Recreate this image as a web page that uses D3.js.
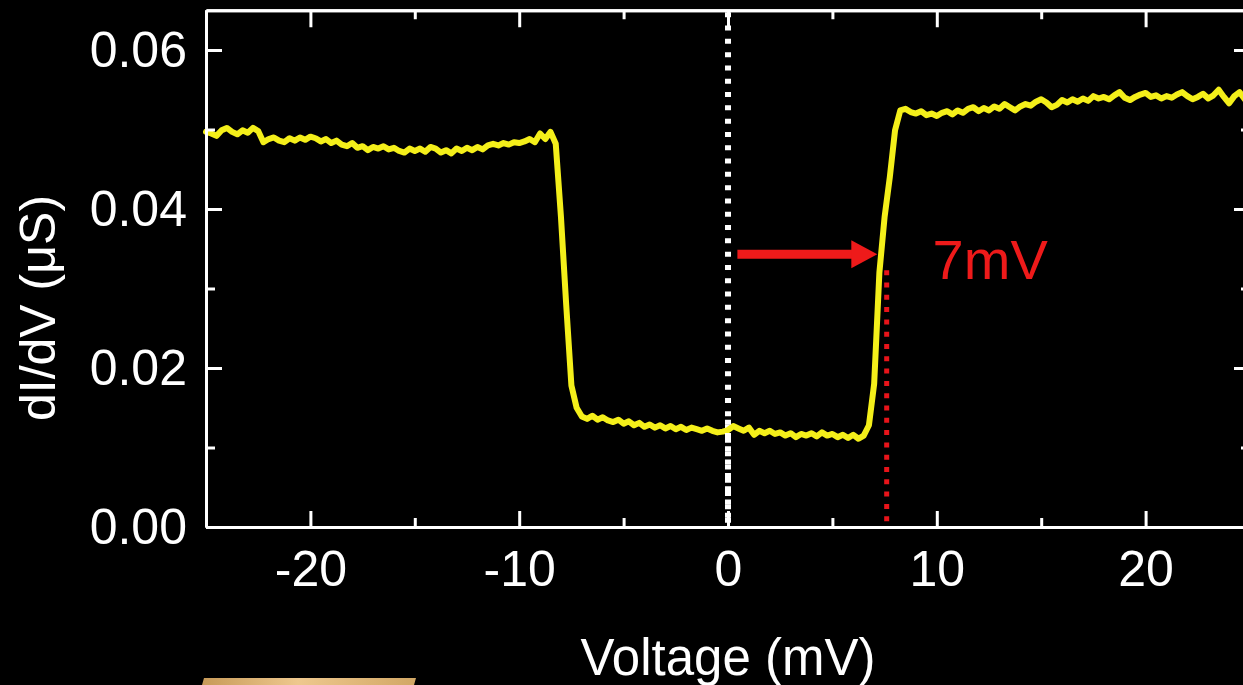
<!DOCTYPE html>
<html>
<head>
<meta charset="utf-8">
<script src="https://cdn.jsdelivr.net/npm/d3@7"></script>
<style>
html,body{margin:0;padding:0;background:#000;overflow:hidden;}
svg{display:block;}
text{font-family:"Liberation Sans",Arial,Helvetica,sans-serif;}
</style>
</head>
<body>
<svg id="chart" width="1243" height="685"></svg>
<script>
// ---- data ----
const vStart = -25, vStep = 0.25;            // voltage grid (mV)
const dIdV = [                                 // dI/dV (µS), one value per 0.25 mV from -25 to 25
  .0497,.0495,.0492,.0499,.0502,.0497,.0494,.0499,.0496,.0502,.0498,.0484,.0488,.0490,.0486,.0484,.0489,.0486,.0490,.0487,
  .0491,.0489,.0485,.0488,.0483,.0486,.0481,.0479,.0483,.0477,.0479,.0474,.0478,.0476,.0479,.0475,.0477,.0473,.0471,.0476,
  .0473,.0476,.0472,.0478,.0476,.0471,.0474,.0470,.0476,.0473,.0477,.0474,.0478,.0475,.0480,.0482,.0480,.0483,.0481,.0484,
  .0483,.0485,.0488,.0484,.0495,.0488,.0497,.0482,.0390,.0280,.0178,.0150,.0139,.0136,.0140,.0135,.0138,.0134,.0132,.0135,
  .0130,.0133,.0128,.0131,.0126,.0129,.0125,.0128,.0124,.0127,.0123,.0126,.0122,.0125,.0123,.0121,.0124,.0121,.0119,.0120,
  .0122,.0127,.0124,.0121,.0125,.0116,.0121,.0118,.0121,.0117,.0119,.0115,.0118,.0113,.0117,.0115,.0118,.0114,.0119,.0115,
  .0117,.0113,.0116,.0112,.0116,.0111,.0115,.0128,.0180,.0320,.0390,.0440,.0499,.0524,.0526,.0522,.0520,.0523,.0518,.0520,
  .0517,.0521,.0523,.0519,.0524,.0521,.0526,.0528,.0523,.0527,.0524,.0529,.0526,.0532,.0528,.0524,.0529,.0532,.0530,.0535,
  .0538,.0534,.0528,.0531,.0537,.0534,.0538,.0535,.0539,.0536,.0542,.0539,.0541,.0538,.0543,.0547,.0540,.0537,.0541,.0544,
  .0546,.0541,.0543,.0539,.0542,.0540,.0544,.0547,.0542,.0538,.0541,.0545,.0539,.0543,.0550,.0541,.0533,.0542,.0547,.0538,.0544
];
const xMajor = [-20, -10, 0, 10, 20];
const xMinor = [-25, -15, -5, 5, 15, 25];
const yMajor = [0, 0.02, 0.04, 0.06];
const yMinor = [0.01, 0.03, 0.05];
const zeroLineV = 0;                  // white dotted reference
const gapLineV = 7.6, gapLineTop = 0.0323;   // red dotted line
const arrowFrom = 0.45, arrowTo = 7.15, arrowG = 0.0343;
const gapLabel = "7mV", gapLabelV = 9.8, gapLabelG = 0.0312;
const xTitle = "Voltage (mV)", yTitle = "dI/dV (\u03BCS)";

// ---- layout ----
const svg = d3.select("#chart");
const L = 206, R = 1250, T = 10.25, B = 527;
const x = d3.scaleLinear().domain([-25, 25]).range([L, R]);
const y = d3.scaleLinear().domain([0, 0.065]).range([B, T]);
const fmtY = d3.format(".2f");
const fmtX = d => String(d);   // plain hyphen minus

svg.append("rect").attr("width",1243).attr("height",685).attr("fill","#000");

// gold fragment at bottom-left (part of an image under the chart)
const defs = svg.append("defs");
const lg = defs.append("linearGradient").attr("id","gold").attr("x1","0").attr("x2","1");
lg.append("stop").attr("offset","0").attr("stop-color","#c79a58");
lg.append("stop").attr("offset","0.45").attr("stop-color","#eec88e");
lg.append("stop").attr("offset","1").attr("stop-color","#d2a765");
svg.append("path").attr("d","M204,678 L416,678 L414,685 L202,685 Z").attr("fill","url(#gold)");

const data = dIdV.map((g,i)=>({v: vStart + i*vStep, g}));

// white dotted zero line
svg.append("line")
  .attr("x1", x(zeroLineV)).attr("x2", x(zeroLineV))
  .attr("y1", T+2).attr("y2", B)
  .attr("stroke","#fff").attr("stroke-width",6).attr("stroke-dasharray","5,8.3");

// curve
svg.append("path").datum(data)
  .attr("fill","none").attr("stroke","#f4ef1a").attr("stroke-width",6)
  .attr("stroke-linejoin","round").attr("stroke-linecap","round")
  .attr("d", d3.line().x(d=>x(d.v)).y(d=>y(d.g)));

// white dots over curve at crossing
svg.append("line")
  .attr("x1", x(zeroLineV)).attr("x2", x(zeroLineV))
  .attr("y1", y(0.0135)).attr("y2", B)
  .attr("stroke","#fff").attr("stroke-width",6).attr("stroke-dasharray","5,8.3");

// red dotted line
svg.append("line")
  .attr("x1", x(gapLineV)).attr("x2", x(gapLineV))
  .attr("y1", y(gapLineTop)).attr("y2", B)
  .attr("stroke","#e8141a").attr("stroke-width",5).attr("stroke-dasharray","5,7.3");

// red arrow
const ax0 = x(arrowFrom), ax1 = x(arrowTo), ay = y(arrowG);
svg.append("line").attr("x1",ax0).attr("x2",ax1-24).attr("y1",ay).attr("y2",ay)
  .attr("stroke","#ee1a1a").attr("stroke-width",9);
svg.append("path")
  .attr("d",`M${ax1-26},${ay-14} L${ax1},${ay} L${ax1-26},${ay+14} Z`)
  .attr("fill","#ee1a1a");

svg.append("text").attr("x", x(gapLabelV)).attr("y", y(gapLabelG))
  .attr("fill","#ee1a1a").attr("font-size",56).text(gapLabel);

// ---- axes ----
function styleAxis(g){
  g.selectAll(".domain").attr("stroke","#fff").attr("stroke-width",3);
  g.selectAll(".tick line").attr("stroke","#fff").attr("stroke-width",3);
  g.selectAll(".tick text").attr("fill","#fff").attr("font-size",50)
    .attr("font-family",'"Liberation Sans",Arial,sans-serif');
}
// bottom
svg.append("g").attr("transform",`translate(0,${B})`)
  .call(d3.axisBottom(x).tickValues(xMajor).tickSize(-16).tickSizeOuter(0).tickPadding(23).tickFormat(fmtX))
  .call(styleAxis);
svg.append("g").attr("transform",`translate(0,${B})`)
  .call(d3.axisBottom(x).tickValues(xMinor).tickSize(-9).tickSizeOuter(0).tickFormat(""))
  .call(styleAxis);
// top
svg.append("g").attr("transform",`translate(0,${T})`)
  .call(d3.axisTop(x).tickValues(xMajor).tickSize(-17).tickSizeOuter(0).tickFormat(""))
  .call(styleAxis);
svg.append("g").attr("transform",`translate(0,${T})`)
  .call(d3.axisTop(x).tickValues(xMinor).tickSize(-9).tickSizeOuter(0).tickFormat(""))
  .call(styleAxis);
// left
svg.append("g").attr("transform",`translate(${L},0)`)
  .call(d3.axisLeft(y).tickValues(yMajor).tickSize(-16).tickSizeOuter(0).tickPadding(19).tickFormat(fmtY))
  .call(styleAxis);
svg.append("g").attr("transform",`translate(${L},0)`)
  .call(d3.axisLeft(y).tickValues(yMinor).tickSize(-9).tickSizeOuter(0).tickFormat(""))
  .call(styleAxis);
// right
svg.append("g").attr("transform",`translate(${R},0)`)
  .call(d3.axisRight(y).tickValues(yMajor).tickSize(-16).tickSizeOuter(0).tickFormat(""))
  .call(styleAxis);
svg.append("g").attr("transform",`translate(${R},0)`)
  .call(d3.axisRight(y).tickValues(yMinor).tickSize(-9).tickSizeOuter(0).tickFormat(""))
  .call(styleAxis);

// titles
svg.append("text").attr("x", x(0)).attr("y", 675).attr("text-anchor","middle")
  .attr("fill","#fff").attr("font-size",51).text(xTitle);
svg.append("text").attr("transform","translate(55,308) rotate(-90)").attr("text-anchor","middle")
  .attr("fill","#fff").attr("font-size",50).text(yTitle);
</script>
</body>
</html>
